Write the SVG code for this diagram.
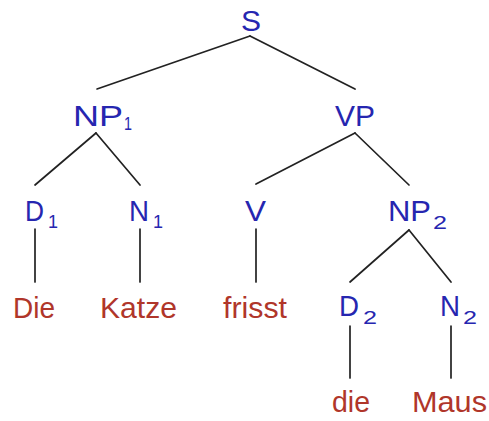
<svg xmlns="http://www.w3.org/2000/svg" width="489" height="421" viewBox="0 0 489 421">
<style>
text{font-family:"Liberation Sans",Arial,sans-serif;font-size:30px}
.c{fill:#2626b0}
.w{fill:#b0362a}
.s{font-size:19px}
line{stroke:#222;stroke-width:1.7;stroke-linecap:round}
</style>
<rect width="489" height="421" fill="#fff"/>
<g id="connectors">
<line x1="250" y1="36" x2="97" y2="89"/>
<line x1="250" y1="36" x2="355" y2="89"/>
<line x1="96" y1="133" x2="35" y2="185"/>
<line x1="96" y1="133" x2="140" y2="185"/>
<line x1="355" y1="133" x2="256" y2="184"/>
<line x1="355" y1="133" x2="409" y2="185"/>
<line x1="35" y1="229" x2="35" y2="282"/>
<line x1="140" y1="229" x2="140" y2="282"/>
<line x1="256" y1="229" x2="256" y2="282"/>
<line x1="409" y1="230" x2="350" y2="282"/>
<line x1="409" y1="230" x2="451" y2="282"/>
<line x1="350" y1="326" x2="350" y2="378"/>
<line x1="451" y1="326" x2="451" y2="378"/>
</g>
<g id="S"><text class="c" x="241" y="31" textLength="20" lengthAdjust="spacingAndGlyphs">S</text></g>
<g id="NP1"><text class="c" x="73" y="126" textLength="50" lengthAdjust="spacingAndGlyphs">NP</text><text class="c s" x="124" y="130" textLength="8" lengthAdjust="spacingAndGlyphs">1</text></g>
<g id="VP"><text class="c" x="335" y="126" textLength="40" lengthAdjust="spacingAndGlyphs">VP</text></g>
<g id="D1"><text class="c" x="25" y="221" textLength="19" lengthAdjust="spacingAndGlyphs">D</text><text class="c s" x="48" y="228" textLength="10" lengthAdjust="spacingAndGlyphs">1</text></g>
<g id="N1"><text class="c" x="129" y="221" textLength="20" lengthAdjust="spacingAndGlyphs">N</text><text class="c s" x="153" y="228" textLength="10" lengthAdjust="spacingAndGlyphs">1</text></g>
<g id="V"><text class="c" x="245" y="221" textLength="21" lengthAdjust="spacingAndGlyphs">V</text></g>
<g id="NP2"><text class="c" x="388" y="221" textLength="43" lengthAdjust="spacingAndGlyphs">NP</text><text class="c s" x="433" y="229" textLength="14" lengthAdjust="spacingAndGlyphs">2</text></g>
<g id="Die"><text class="w" x="13" y="318" textLength="42" lengthAdjust="spacingAndGlyphs">Die</text></g>
<g id="Katze"><text class="w" x="100" y="318" textLength="77" lengthAdjust="spacingAndGlyphs">Katze</text></g>
<g id="frisst"><text class="w" x="223" y="318" textLength="64" lengthAdjust="spacingAndGlyphs">frisst</text></g>
<g id="D2"><text class="c" x="339" y="316" textLength="20" lengthAdjust="spacingAndGlyphs">D</text><text class="c s" x="363" y="324" textLength="14" lengthAdjust="spacingAndGlyphs">2</text></g>
<g id="N2"><text class="c" x="440" y="316" textLength="20" lengthAdjust="spacingAndGlyphs">N</text><text class="c s" x="463" y="324" textLength="14" lengthAdjust="spacingAndGlyphs">2</text></g>
<g id="die"><text class="w" x="332" y="412" textLength="38" lengthAdjust="spacingAndGlyphs">die</text></g>
<g id="Maus"><text class="w" x="412" y="412" textLength="75" lengthAdjust="spacingAndGlyphs">Maus</text></g>
</svg>
